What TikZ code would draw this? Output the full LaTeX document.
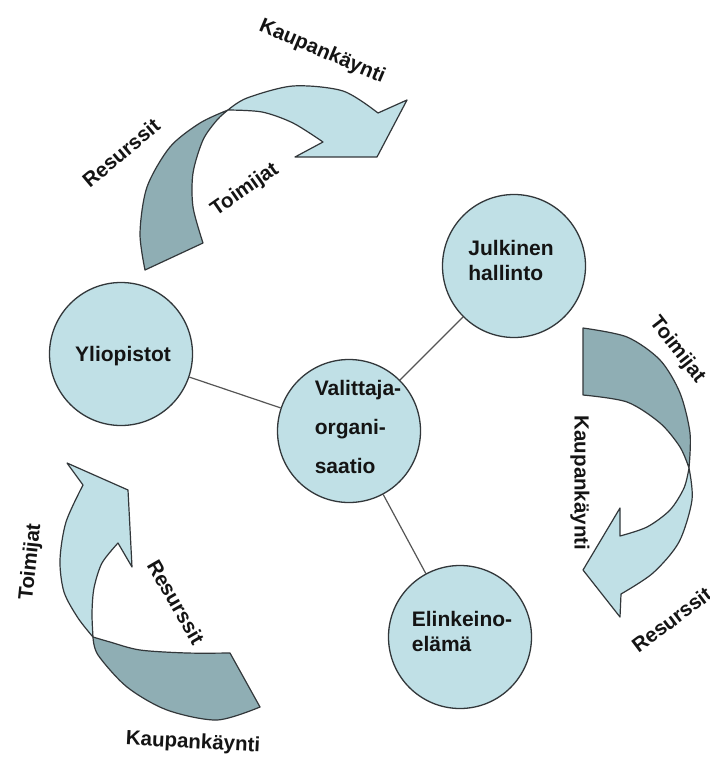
\documentclass[tikz,border=0pt]{standalone}
\usepackage{fontspec}
\setmainfont{Liberation Sans}
\definecolor{lightfill}{RGB}{192,224,230}
\definecolor{darkfill}{RGB}{143,174,180}
\definecolor{edge}{RGB}{50,55,58}
\definecolor{linkcol}{RGB}{85,85,85}
\tikzset{
  bubble/.style={circle, draw=edge, line width=1.3pt, fill=lightfill, minimum size=143pt, inner sep=0pt},
  bubbletext/.style={font=\fontsize{21}{25}\selectfont\bfseries, text=black!92, align=left, inner sep=0pt},
  link/.style={draw=linkcol, line width=1.2pt},
  bandlight/.style={fill=lightfill, draw=edge, line width=1.2pt, line join=round},
  banddark/.style={fill=darkfill, draw=edge, line width=1.2pt, line join=round},
  flowlabel/.style={font=\fontsize{20.5}{23}\selectfont\bfseries, text=black!92, inner sep=0pt}
}
\begin{document}
\begin{tikzpicture}[x=1pt, y=-1pt]
\fill[white] (0,0) rectangle (709,762);
\useasboundingbox (0,0) rectangle (709,762);

% ---- curved arrow, top ----
\path[banddark] (145,270) -- plot[smooth] coordinates {(145,270) (140,233) (147,187) (170,147) (200,123) (228,110)}
  -- plot[smooth] coordinates {(228,110) (217,120) (203,140) (193,173) (193,207) (203,243)} -- cycle;
\path[bandlight] (228,110) -- plot[smooth] coordinates {(228,110) (247,98) (293,86) (343,91) (378,113)}
  -- (407,100) -- (377,157) -- (295,157) -- (323,142)
  -- plot[smooth] coordinates {(323,142) (293,123) (262,112) (228,110)} -- cycle;

% ---- curved arrow, right ----
\path[banddark] (583,328) -- plot[smooth] coordinates {(583,328) (627,337) (660,360) (680,393) (690,433) (689,468)}
  -- plot[smooth] coordinates {(689,468) (680,447) (660,423) (627,402) (583,395)} -- cycle;
\path[bandlight] (689,468) -- plot[smooth] coordinates {(689,468) (692,500) (679,542) (653,573) (621,594)}
  -- (620,617) -- (583,570) -- (620,508) -- (620,536)
  -- plot[smooth] coordinates {(620,536) (647,527) (670,510) (684,488) (689,468)} -- cycle;

% ---- curved arrow, lower left ----
\path[banddark] (260,707) -- plot[smooth] coordinates {(260,707) (217,720) (167,710) (127,687) (98,655) (93,637)}
  -- plot[smooth] coordinates {(93,637) (110,642) (140,650) (187,653) (230,653)} -- cycle;
\path[bandlight] (93,637) -- plot[smooth] coordinates {(93,637) (78,618) (64,592) (60,560) (66,522) (83,485)}
  -- (67,463) -- (128,490) -- (132,567) -- (118,543)
  -- plot[smooth] coordinates {(118,543) (102,563) (94,588) (92,613) (93,637)} -- cycle;

% ---- actors ----
\node[bubble] (yo) at (121,354) {};
\node[bubble] (vo) at (349,431) {};
\node[bubble] (jh) at (514,266) {};
\node[bubble] (ee) at (460,637) {};

\node[bubbletext] (yot) at (123,356) {Yliopistot};
\node[bubbletext, font=\fontsize{21}{39}\selectfont\bfseries] (vot) at (358,427) {Valittaja-\\organi-\\saatio};
\node[bubbletext] (jht) at (511,260) {Julkinen\\hallinto};
\node[bubbletext] (eet) at (462,631) {Elinkeino-\\elämä};

\draw[link] (yo) -- (vo);
\draw[link] (vo) -- (jh);
\draw[link] (vo) -- (ee);

% ---- flow labels ----
\node[flowlabel, rotate=-23] (k1) at (322,52) {Kaupankäynti};
\node[flowlabel, rotate=40] (r1) at (121,153) {Resurssit};
\node[flowlabel, rotate=35] (t1) at (245,190) {Toimijat};

\node[flowlabel, rotate=-52] (t2) at (677,350) {Toimijat};
\node[flowlabel, rotate=-90] (k2) at (580,483) {Kaupankäynti};
\node[flowlabel, rotate=37, anchor=west] (r2) at (634,648) {Resurssit};

\node[flowlabel, rotate=84] (t3) at (31,562) {Toimijat};
\node[flowlabel, rotate=-60] (r3) at (176,602) {Resurssit};
\node[flowlabel, rotate=-3] (k3) at (193,743) {Kaupankäynti};
\end{tikzpicture}
\end{document}
